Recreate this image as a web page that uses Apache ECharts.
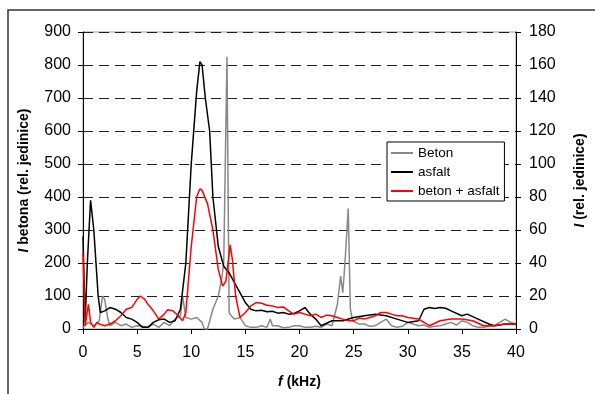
<!DOCTYPE html>
<html>
<head>
<meta charset="utf-8">
<script src="https://cdn.jsdelivr.net/npm/echarts@6/dist/echarts.min.js"></script>
<style>
  html, body { margin: 0; padding: 0; background: #fff; }
  #chart { width: 595px; height: 394px; }
</style>
</head>
<body>
<div id="chart"></div>
<script>
// frequency (kHz) + intensity pairs
// Beton -> left axis (0-900)
const betonF = [0, 0.5, 1, 1.5, 1.8, 2, 2.3, 2.5, 3, 3.5, 4, 4.5, 5, 5.5, 6, 6.5, 7, 7.5, 8, 8.5, 9, 9.2, 9.5, 10, 10.5, 11, 11.2, 11.5, 12, 12.5, 12.8, 13, 13.3, 13.5, 13.7, 14, 14.5, 15, 15.5, 16, 16.5, 17, 17.3, 17.5, 18, 18.5, 19, 19.5, 20, 20.5, 21, 21.5, 22, 22.5, 23, 23.5, 23.8, 24, 24.2, 24.5, 24.7, 24.9, 25, 25.5, 26, 26.5, 27, 27.5, 28, 28.5, 29, 29.5, 30, 30.5, 31, 31.5, 32, 32.5, 33, 33.5, 34, 34.5, 35, 35.5, 36, 36.5, 37, 37.5, 38, 38.5, 39, 39.5, 40];
const betonI = [5, 20, 10, 25, 100, 90, 30, 10, 20, 10, 15, 5, 10, 8, 5, 15, 5, 20, 10, 30, 40, 100, 35, 30, 35, 20, 0, 0, 60, 100, 150, 200, 825, 50, 40, 30, 35, 10, 5, 5, 10, 5, 30, 10, 10, 4, 5, 10, 10, 5, 5, 8, 5, 15, 10, 75, 160, 110, 200, 365, 60, 25, 20, 15, 15, 8, 10, 20, 30, 10, 5, 8, 20, 15, 10, 12, 5, 8, 10, 15, 20, 12, 25, 20, 10, 5, 5, 8, 10, 20, 30, 20, 15];

// asfalt -> right axis (0-180)
const asfaltF = [0, 0.2, 0.4, 0.7, 1, 1.4, 1.6, 2, 2.5, 3, 3.5, 4, 4.5, 5, 5.5, 6, 6.5, 7, 7.5, 8, 8.5, 9, 9.5, 10, 10.5, 10.8, 11, 11.3, 11.7, 12, 12.5, 13, 13.5, 14, 14.5, 15, 15.5, 16, 16.5, 17, 17.5, 18, 18.5, 19, 19.5, 20, 20.5, 21, 21.5, 22, 23, 24, 25, 26, 27, 28, 29, 30, 31, 31.5, 32, 32.5, 33, 33.5, 34, 35, 35.5, 36.5, 37.5, 38, 39, 40];
const asfaltI = [56, 4, 40, 78, 60, 20, 10, 11, 13, 12, 10, 7, 6, 4, 1, 1, 4, 5.6, 6, 4, 5, 12, 40, 100, 144, 162, 160, 140, 120, 80, 50, 38, 34, 28, 22, 16, 12, 11, 11.4, 10.4, 10.8, 9.6, 10, 9, 9.4, 11, 13, 9, 6, 2, 5, 5, 7, 8, 9, 8, 6, 4, 5, 12, 13, 12.4, 13, 12.6, 11, 8, 9, 6, 3, 2, 3, 3];

// beton + asfalt -> right axis (0-180)
const mixF = [0, 0.2, 0.5, 0.7, 1, 1.3, 1.5, 2, 2.5, 3, 3.5, 4, 4.5, 5, 5.3, 5.7, 6, 6.5, 7, 7.5, 7.8, 8.3, 8.8, 9.2, 9.5, 10, 10.5, 10.8, 11, 11.5, 12, 12.5, 12.9, 13.2, 13.6, 13.8, 14.1, 14.5, 15, 15.5, 16, 16.5, 17, 17.5, 18, 18.5, 19, 19.5, 20, 20.5, 21, 21.5, 22, 22.5, 23, 23.5, 24, 24.5, 25, 25.5, 26, 26.5, 27, 27.5, 28, 28.5, 29, 29.5, 30, 31, 32, 33, 34, 35, 36, 37, 38, 39, 40];
const mixI = [46, 2, 15, 4, 1, 4, 3, 2, 3, 5, 8, 12, 13, 18, 20, 18, 15, 11, 6, 9, 11.6, 11, 8, 5, 10, 50, 80, 85, 84, 76, 60, 36, 26, 29, 51, 42, 20, 7, 10, 14, 16, 15.6, 14.4, 14, 13, 13.4, 11, 9, 10, 9, 8, 9, 7, 8.4, 8, 7, 6, 5, 5, 6.6, 6, 7, 8, 10, 10, 9, 8, 8, 7, 6, 2, 5, 6, 6, 5, 2, 2, 3, 3];

const xTicks = {min: 0, max: 40, step: 5};

function pairs(xs, ys) {
    return xs.map((x, i) => [x, ys[i]]);
}

const chart = echarts.init(document.getElementById('chart'), null, {renderer: 'canvas'});

const font = 'Liberation Sans, Arial, sans-serif';
const axisLabel = {color: '#000', fontSize: 16, fontFamily: font};
const nameStyle = {
    color: '#000', fontSize: 14, fontWeight: 'bold', fontFamily: font,
    rich: {i: {fontStyle: 'italic', fontWeight: 'bold', fontSize: 14, fontFamily: font, color: '#000'}}
};
const dash = {color: '#222', width: 1, type: [10, 6]};

const option = {
    animation: false,
    backgroundColor: '#fff',
    graphic: [{
        type: 'rect',
        shape: {x: 8, y: 10, width: 600, height: 400},
        style: {fill: 'none', stroke: '#333', lineWidth: 1.5},
        silent: true
    }],
    grid: {
        left: 83, right: 72, top: 32, bottom: 64,
        show: true, borderColor: '#999', borderWidth: 1
    },
    legend: {
        orient: 'vertical',
        left: 387, top: 142,
        backgroundColor: '#fff',
        borderColor: '#000', borderWidth: 1, borderRadius: 0,
        padding: [4, 5, 3, 4],
        icon: 'rect',
        itemWidth: 22, itemHeight: 2, itemGap: 5,
        textStyle: {color: '#000', fontSize: 13.5, fontFamily: font}
    },
    xAxis: {
        type: 'value',
        min: xTicks.min, max: xTicks.max, interval: xTicks.step,
        name: '{i|f} (kHz)',
        nameLocation: 'middle', nameGap: 46,
        nameTextStyle: nameStyle,
        axisLine: {show: true, onZero: false, lineStyle: {color: '#000', width: 1}},
        axisTick: {show: true, length: 5, lineStyle: {color: '#000'}},
        axisLabel: Object.assign({margin: 16}, axisLabel),
        splitLine: {show: false}
    },
    yAxis: [{
        type: 'value',
        min: 0, max: 900, interval: 100,
        name: '{i|I} betona (rel. jedinice)',
        nameLocation: 'middle', nameRotate: 90, nameGap: 52,
        nameTextStyle: nameStyle,
        axisLine: {show: true, lineStyle: {color: '#000', width: 1}},
        axisTick: {show: true, length: 5, lineStyle: {color: '#000'}},
        axisLabel: Object.assign({margin: 12}, axisLabel),
        splitLine: {show: true, lineStyle: dash}
    }, {
        type: 'value',
        position: 'right',
        min: 0, max: 180, interval: 20,
        name: '{i|I} (rel. jedinice)',
        nameLocation: 'middle', nameRotate: 90, nameGap: 57,
        nameTextStyle: nameStyle,
        axisLine: {show: true, lineStyle: {color: '#000', width: 1}},
        axisTick: {show: true, length: 5, lineStyle: {color: '#000'}},
        axisLabel: Object.assign({margin: 13}, axisLabel),
        splitLine: {show: false}
    }],
    series: [{
        name: 'Beton',
        type: 'line',
        yAxisIndex: 0,
        symbol: 'none',
        data: pairs(betonF, betonI),
        lineStyle: {color: '#888', width: 1.5},
        itemStyle: {color: '#888'},
        z: 2
    }, {
        name: 'asfalt',
        type: 'line',
        yAxisIndex: 1,
        symbol: 'none',
        data: pairs(asfaltF, asfaltI),
        lineStyle: {color: '#000', width: 1.5},
        itemStyle: {color: '#000'},
        z: 3
    }, {
        name: 'beton + asfalt',
        type: 'line',
        yAxisIndex: 1,
        symbol: 'none',
        data: pairs(mixF, mixI),
        lineStyle: {color: '#ff0000', width: 1.5},
        itemStyle: {color: '#ff0000'},
        z: 4
    }]
};

chart.setOption(option);
</script>
</body>
</html>
